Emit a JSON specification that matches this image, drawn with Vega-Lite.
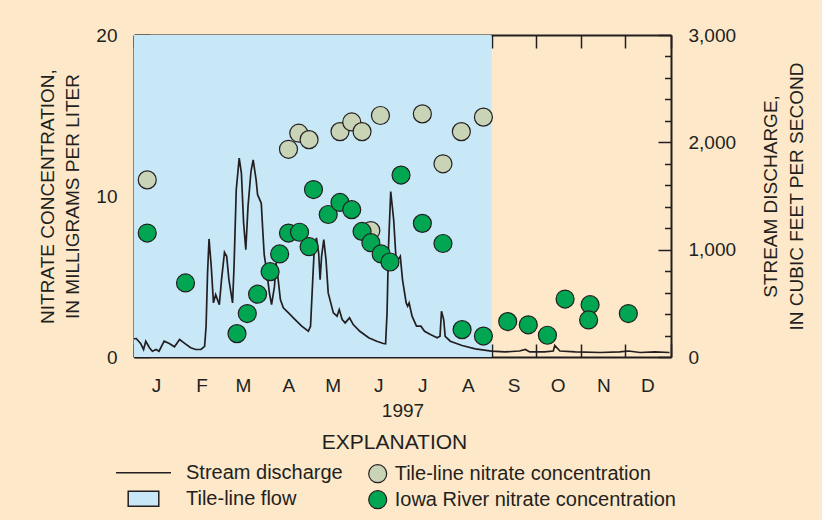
{
  "$schema": "https://vega.github.io/schema/vega-lite/v6.json",
  "width": 537,
  "height": 322,
  "autosize": {"type": "none"},
  "padding": {"left": 134, "top": 35, "right": 151, "bottom": 163},
  "background": "#fde8c9",
  "config": {
    "font": "Liberation Sans",
    "view": {"stroke": null, "fill": "white"},
    "axis": {
      "labelFont": "Liberation Sans", "labelFontSize": 19, "labelColor": "#231f20",
      "titleFont": "Liberation Sans", "titleFontSize": 19, "titleFontWeight": "normal", "titleColor": "#231f20",
      "tickColor": "#231f20", "tickWidth": 1.5, "domainColor": "#231f20", "domainWidth": 2,
      "grid": false, "zindex": 1, "labelFlush": false, "labelOverlap": false, "labelBound": false
    },
    "legend": {
      "labelFont": "Liberation Sans", "labelFontSize": 20, "labelColor": "#231f20", "labelLimit": 0, "padding": 0
    }
  },
  "title": {
    "text": "EXPLANATION", "orient": "bottom", "anchor": "middle", "frame": "group",
    "font": "Liberation Sans", "fontSize": 21, "fontWeight": "normal", "color": "#231f20",
    "offset": -80, "dx": -8
  },
  "resolve": {"scale": {"y": "independent"}, "axis": {"x": "independent", "y": "independent"}},
  "layer": [
    {
      "data": {"values": [{"start": "1997-01-01", "end": "1997-09-01", "name": "Tile-line flow"}]},
      "mark": {"type": "rect", "fill": "#c8e8f8"},
      "encoding": {
        "x": {
          "field": "start", "type": "temporal",
          "scale": {"type": "utc", "domain": [{"year": 1997, "month": 1, "date": 1, "utc": true}, {"year": 1998, "month": 1, "date": 1, "utc": true}]},
          "axis": {"orient": "top", "labels": false, "title": null, "tickCount": {"interval": "month", "step": 1}, "tickSize": -13}
        },
        "x2": {"field": "end"}
      }
    },
    {
      "data": {"values": [
        {"date": "1997-01-01T00:00:00Z", "q": 170},
        {"date": "1997-01-02T12:00:00Z", "q": 172},
        {"date": "1997-01-05T12:00:00Z", "q": 126},
        {"date": "1997-01-07T12:00:00Z", "q": 70},
        {"date": "1997-01-09T00:00:00Z", "q": 147},
        {"date": "1997-01-11T12:00:00Z", "q": 86},
        {"date": "1997-01-13T12:00:00Z", "q": 54},
        {"date": "1997-01-16T00:00:00Z", "q": 70},
        {"date": "1997-01-18T00:00:00Z", "q": 54},
        {"date": "1997-01-21T12:00:00Z", "q": 147},
        {"date": "1997-01-25T00:00:00Z", "q": 126},
        {"date": "1997-01-28T12:00:00Z", "q": 95},
        {"date": "1997-02-01T00:00:00Z", "q": 163},
        {"date": "1997-02-04T00:00:00Z", "q": 132},
        {"date": "1997-02-08T12:00:00Z", "q": 86},
        {"date": "1997-02-12T00:00:00Z", "q": 70},
        {"date": "1997-02-15T12:00:00Z", "q": 70},
        {"date": "1997-02-18T00:00:00Z", "q": 100},
        {"date": "1997-02-19T00:00:00Z", "q": 287},
        {"date": "1997-02-20T00:00:00Z", "q": 783},
        {"date": "1997-02-21T00:00:00Z", "q": 1100},
        {"date": "1997-02-22T12:00:00Z", "q": 845},
        {"date": "1997-02-24T00:00:00Z", "q": 504},
        {"date": "1997-02-25T12:00:00Z", "q": 581},
        {"date": "1997-02-28T00:00:00Z", "q": 488},
        {"date": "1997-03-01T12:00:00Z", "q": 721},
        {"date": "1997-03-03T12:00:00Z", "q": 975},
        {"date": "1997-03-05T00:00:00Z", "q": 938},
        {"date": "1997-03-06T12:00:00Z", "q": 721},
        {"date": "1997-03-09T00:00:00Z", "q": 504},
        {"date": "1997-03-10T00:00:00Z", "q": 845},
        {"date": "1997-03-11T12:00:00Z", "q": 1558},
        {"date": "1997-03-13T12:00:00Z", "q": 1853},
        {"date": "1997-03-15T00:00:00Z", "q": 1713},
        {"date": "1997-03-16T12:00:00Z", "q": 1248},
        {"date": "1997-03-18T00:00:00Z", "q": 1000},
        {"date": "1997-03-19T12:00:00Z", "q": 1403},
        {"date": "1997-03-21T12:00:00Z", "q": 1728},
        {"date": "1997-03-23T00:00:00Z", "q": 1837},
        {"date": "1997-03-25T00:00:00Z", "q": 1651},
        {"date": "1997-03-26T00:00:00Z", "q": 1512},
        {"date": "1997-03-28T12:00:00Z", "q": 1434},
        {"date": "1997-03-29T12:00:00Z", "q": 1186},
        {"date": "1997-03-30T12:00:00Z", "q": 953},
        {"date": "1997-04-01T12:00:00Z", "q": 767},
        {"date": "1997-04-03T00:00:00Z", "q": 600},
        {"date": "1997-04-04T12:00:00Z", "q": 488},
        {"date": "1997-04-06T12:00:00Z", "q": 659},
        {"date": "1997-04-07T12:00:00Z", "q": 876},
        {"date": "1997-04-09T00:00:00Z", "q": 721},
        {"date": "1997-04-10T12:00:00Z", "q": 535},
        {"date": "1997-04-12T12:00:00Z", "q": 458},
        {"date": "1997-04-16T00:00:00Z", "q": 411},
        {"date": "1997-04-20T12:00:00Z", "q": 349},
        {"date": "1997-04-25T00:00:00Z", "q": 287},
        {"date": "1997-04-29T12:00:00Z", "q": 240},
        {"date": "1997-05-01T00:00:00Z", "q": 287},
        {"date": "1997-05-02T12:00:00Z", "q": 721},
        {"date": "1997-05-03T12:00:00Z", "q": 1000},
        {"date": "1997-05-05T00:00:00Z", "q": 1109},
        {"date": "1997-05-06T12:00:00Z", "q": 969},
        {"date": "1997-05-07T12:00:00Z", "q": 721},
        {"date": "1997-05-08T12:00:00Z", "q": 938},
        {"date": "1997-05-10T00:00:00Z", "q": 1093},
        {"date": "1997-05-11T12:00:00Z", "q": 907},
        {"date": "1997-05-13T00:00:00Z", "q": 597},
        {"date": "1997-05-16T12:00:00Z", "q": 411},
        {"date": "1997-05-19T00:00:00Z", "q": 380},
        {"date": "1997-05-20T12:00:00Z", "q": 442},
        {"date": "1997-05-22T12:00:00Z", "q": 349},
        {"date": "1997-05-24T12:00:00Z", "q": 318},
        {"date": "1997-05-27T12:00:00Z", "q": 365},
        {"date": "1997-05-30T00:00:00Z", "q": 302},
        {"date": "1997-06-03T12:00:00Z", "q": 240},
        {"date": "1997-06-09T12:00:00Z", "q": 179},
        {"date": "1997-06-15T00:00:00Z", "q": 147},
        {"date": "1997-06-19T12:00:00Z", "q": 126},
        {"date": "1997-06-21T00:00:00Z", "q": 123},
        {"date": "1997-06-22T00:00:00Z", "q": 411},
        {"date": "1997-06-23T00:00:00Z", "q": 1031},
        {"date": "1997-06-24T12:00:00Z", "q": 1542},
        {"date": "1997-06-26T12:00:00Z", "q": 1279},
        {"date": "1997-06-28T00:00:00Z", "q": 938},
        {"date": "1997-06-29T12:00:00Z", "q": 907},
        {"date": "1997-07-01T00:00:00Z", "q": 938},
        {"date": "1997-07-02T12:00:00Z", "q": 721},
        {"date": "1997-07-05T00:00:00Z", "q": 504},
        {"date": "1997-07-06T00:00:00Z", "q": 473},
        {"date": "1997-07-07T00:00:00Z", "q": 504},
        {"date": "1997-07-09T00:00:00Z", "q": 380},
        {"date": "1997-07-12T00:00:00Z", "q": 287},
        {"date": "1997-07-15T00:00:00Z", "q": 287},
        {"date": "1997-07-17T12:00:00Z", "q": 240},
        {"date": "1997-07-21T12:00:00Z", "q": 209},
        {"date": "1997-07-26T00:00:00Z", "q": 179},
        {"date": "1997-07-28T00:00:00Z", "q": 193},
        {"date": "1997-07-29T00:00:00Z", "q": 426},
        {"date": "1997-07-30T12:00:00Z", "q": 349},
        {"date": "1997-07-31T12:00:00Z", "q": 193},
        {"date": "1997-08-04T00:00:00Z", "q": 147},
        {"date": "1997-08-12T00:00:00Z", "q": 107},
        {"date": "1997-08-21T00:00:00Z", "q": 76},
        {"date": "1997-09-01T00:00:00Z", "q": 54},
        {"date": "1997-09-10T00:00:00Z", "q": 47},
        {"date": "1997-09-20T00:00:00Z", "q": 56},
        {"date": "1997-09-24T00:00:00Z", "q": 70},
        {"date": "1997-09-27T00:00:00Z", "q": 47},
        {"date": "1997-10-07T00:00:00Z", "q": 47},
        {"date": "1997-10-13T00:00:00Z", "q": 56},
        {"date": "1997-10-14T00:00:00Z", "q": 107},
        {"date": "1997-10-17T12:00:00Z", "q": 56},
        {"date": "1997-10-28T00:00:00Z", "q": 47},
        {"date": "1997-11-14T00:00:00Z", "q": 42},
        {"date": "1997-11-27T00:00:00Z", "q": 47},
        {"date": "1997-12-03T00:00:00Z", "q": 56},
        {"date": "1997-12-11T00:00:00Z", "q": 42},
        {"date": "1997-12-21T00:00:00Z", "q": 47},
        {"date": "1997-12-31T00:00:00Z", "q": 42}
      ]},
      "mark": {"type": "line", "stroke": "#231f20", "strokeWidth": 1.7},
      "encoding": {
        "x": {
          "field": "date", "type": "temporal", "scale": {"type": "utc"},
          "axis": {
            "orient": "bottom", "title": "1997", "titlePadding": 6,
            "tickCount": {"interval": "month", "step": 1}, "tickSize": -13,
            "labelPadding": 32, "labelOffset": 22,
            "labelExpr": "utcyear(datum.value) > 1997 ? '' : substring(utcFormat(datum.value, '%b'), 0, 1)"
          }
        },
        "y": {
          "field": "q", "type": "quantitative",
          "scale": {"domain": [0, 3000], "nice": false, "zero": true},
          "axis": {
            "orient": "right",
            "values": [0, 200, 400, 600, 800, 1000, 1200, 1400, 1600, 1800, 2000, 2200, 2400, 2600, 2800, 3000],
            "tickSize": {"condition": {"test": "datum.value % 1000 === 0", "value": -13}, "value": -6.5},
            "labelPadding": 30,
            "labelExpr": "datum.value % 1000 === 0 ? format(datum.value, ',') : ''",
            "title": ["STREAM DISCHARGE,", "IN CUBIC FEET PER SECOND"],
            "titleAngle": -90, "titleBaseline": "top", "titleLineHeight": 26, "titlePadding": 0
          }
        }
      }
    },
    {
      "data": {"values": [
        {"date": "1997-01-10", "value": 11.0, "series": "Tile-line nitrate concentration"},
        {"date": "1997-04-16", "value": 12.9, "series": "Tile-line nitrate concentration"},
        {"date": "1997-04-23", "value": 13.9, "series": "Tile-line nitrate concentration"},
        {"date": "1997-04-30", "value": 13.5, "series": "Tile-line nitrate concentration"},
        {"date": "1997-05-21", "value": 14.0, "series": "Tile-line nitrate concentration"},
        {"date": "1997-05-29", "value": 14.6, "series": "Tile-line nitrate concentration"},
        {"date": "1997-06-05", "value": 14.0, "series": "Tile-line nitrate concentration"},
        {"date": "1997-06-17T12:00:00Z", "value": 15.0, "series": "Tile-line nitrate concentration"},
        {"date": "1997-07-16", "value": 15.1, "series": "Tile-line nitrate concentration"},
        {"date": "1997-07-30", "value": 12.0, "series": "Tile-line nitrate concentration"},
        {"date": "1997-08-11T12:00:00Z", "value": 14.0, "series": "Tile-line nitrate concentration"},
        {"date": "1997-08-26T12:00:00Z", "value": 14.9, "series": "Tile-line nitrate concentration"},
        {"date": "1997-06-11", "value": 7.85, "series": "Tile-line nitrate concentration"},
        {"date": "1997-01-10", "value": 7.7, "series": "Iowa River nitrate concentration"},
        {"date": "1997-02-05", "value": 4.6, "series": "Iowa River nitrate concentration"},
        {"date": "1997-03-12", "value": 1.45, "series": "Iowa River nitrate concentration"},
        {"date": "1997-03-19", "value": 2.7, "series": "Iowa River nitrate concentration"},
        {"date": "1997-03-26", "value": 3.9, "series": "Iowa River nitrate concentration"},
        {"date": "1997-04-03T12:00:00Z", "value": 5.3, "series": "Iowa River nitrate concentration"},
        {"date": "1997-04-10", "value": 6.4, "series": "Iowa River nitrate concentration"},
        {"date": "1997-04-16", "value": 7.7, "series": "Iowa River nitrate concentration"},
        {"date": "1997-04-23T12:00:00Z", "value": 7.75, "series": "Iowa River nitrate concentration"},
        {"date": "1997-04-30", "value": 6.85, "series": "Iowa River nitrate concentration"},
        {"date": "1997-05-03", "value": 10.4, "series": "Iowa River nitrate concentration"},
        {"date": "1997-05-13", "value": 8.85, "series": "Iowa River nitrate concentration"},
        {"date": "1997-05-21", "value": 9.6, "series": "Iowa River nitrate concentration"},
        {"date": "1997-05-29", "value": 9.15, "series": "Iowa River nitrate concentration"},
        {"date": "1997-06-05", "value": 7.8, "series": "Iowa River nitrate concentration"},
        {"date": "1997-06-11", "value": 7.1, "series": "Iowa River nitrate concentration"},
        {"date": "1997-06-18", "value": 6.4, "series": "Iowa River nitrate concentration"},
        {"date": "1997-06-24", "value": 5.9, "series": "Iowa River nitrate concentration"},
        {"date": "1997-07-01T12:00:00Z", "value": 11.3, "series": "Iowa River nitrate concentration"},
        {"date": "1997-07-16", "value": 8.3, "series": "Iowa River nitrate concentration"},
        {"date": "1997-07-30", "value": 7.05, "series": "Iowa River nitrate concentration"},
        {"date": "1997-08-12", "value": 1.7, "series": "Iowa River nitrate concentration"},
        {"date": "1997-08-26T12:00:00Z", "value": 1.3, "series": "Iowa River nitrate concentration"},
        {"date": "1997-09-12", "value": 2.2, "series": "Iowa River nitrate concentration"},
        {"date": "1997-09-26", "value": 2.0, "series": "Iowa River nitrate concentration"},
        {"date": "1997-10-09", "value": 1.35, "series": "Iowa River nitrate concentration"},
        {"date": "1997-10-21", "value": 3.6, "series": "Iowa River nitrate concentration"},
        {"date": "1997-11-07", "value": 3.25, "series": "Iowa River nitrate concentration"},
        {"date": "1997-11-06", "value": 2.3, "series": "Iowa River nitrate concentration"},
        {"date": "1997-12-03", "value": 2.7, "series": "Iowa River nitrate concentration"}
      ]},
      "mark": {"type": "point", "shape": "circle", "filled": true, "size": 324, "opacity": 1, "stroke": "#231f20", "strokeWidth": 1.2},
      "encoding": {
        "x": {"field": "date", "type": "temporal", "scale": {"type": "utc"}, "axis": null},
        "y": {
          "field": "value", "type": "quantitative",
          "scale": {"domain": [0, 20], "nice": false},
          "axis": {
            "orient": "left",
            "values": [0, 2, 4, 6, 8, 10, 12, 14, 16, 18, 20],
            "tickSize": {"condition": {"test": "datum.value % 10 === 0", "value": -16}, "value": -11},
            "labelPadding": 33,
            "labelExpr": "datum.value % 10 === 0 ? datum.label : ''",
            "title": ["NITRATE CONCENTRATION,", "IN MILLIGRAMS PER LITER"],
            "titleLineHeight": 25, "titlePadding": 13.5
          }
        },
        "fill": {
          "field": "series", "type": "nominal",
          "scale": {"domain": ["Tile-line nitrate concentration", "Iowa River nitrate concentration"], "range": ["#c9d4b6", "#00a651"]},
          "legend": {
            "orient": "none", "legendX": 233.7, "legendY": 428.7, "title": null,
            "direction": "vertical", "columns": 1, "symbolType": "circle", "symbolSize": 324,
            "symbolStrokeColor": "#231f20", "symbolStrokeWidth": 1.2,
            "symbolOffset": 0, "labelOffset": 7, "rowPadding": 2
          }
        }
      }
    },
    {
      "data": {"values": [{"k": "Stream discharge"}, {"k": "Tile-line flow"}]},
      "transform": [{"filter": "false"}],
      "mark": {"type": "point", "filled": true, "fill": "#c8e8f8", "strokeWidth": 1.5, "opacity": 1},
      "encoding": {
        "shape": {
          "field": "k", "type": "nominal",
          "scale": {"domain": ["Stream discharge", "Tile-line flow"], "range": ["M-2.75,0H2.75", "M-1.53,-0.75H1.53V0.75H-1.53Z"]},
          "legend": {
            "orient": "none", "legendX": -1.5, "legendY": 426.7, "title": null,
            "direction": "vertical", "columns": 1, "symbolSize": 400,
            "symbolStrokeWidth": 1.5, "symbolFillColor": "#c8e8f8",
            "symbolOffset": 0, "labelOffset": 31.5, "rowPadding": 5
          }
        },
        "stroke": {
          "field": "k", "type": "nominal",
          "scale": {"domain": ["Stream discharge", "Tile-line flow"], "range": ["#231f20", "#231f20"]},
          "legend": {
            "orient": "none", "legendX": -1.5, "legendY": 426.7, "title": null,
            "direction": "vertical", "columns": 1, "symbolSize": 400,
            "symbolStrokeWidth": 1.5, "symbolFillColor": "#c8e8f8",
            "symbolOffset": 0, "labelOffset": 31.5, "rowPadding": 5
          }
        }
      }
    }
  ]
}
